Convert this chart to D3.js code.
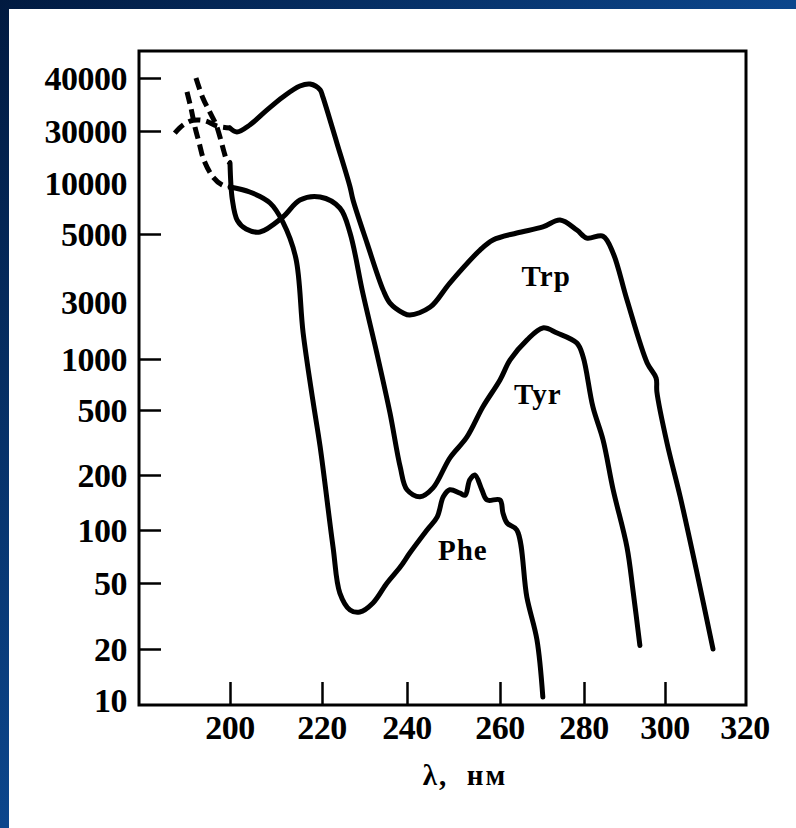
<!DOCTYPE html>
<html>
<head>
<meta charset="utf-8">
<script src="https://cdn.jsdelivr.net/npm/d3@7"></script>
<style>
  html, body { margin: 0; padding: 0; }
  body { width: 796px; height: 828px; overflow: hidden; }
  text { font-family: "Liberation Serif", "DejaVu Serif", serif; font-weight: bold; fill: #000; }
</style>
</head>
<body>
<script>
// axis values
var xTicks = [200, 220, 240, 260, 280, 300, 320];
var xTickMarks = [200, 220, 240, 260, 280, 300];
var yTicks = [10, 20, 50, 100, 200, 500, 1000, 3000, 5000, 10000, 30000, 40000];
var yTickMarks = [20, 50, 100, 200, 500, 1000, 5000, 30000, 40000];

// spectra: [wavelength nm, value]
var trpDashed = [[188, 28700], [189.8, 31000], [192, 31800], [194.6, 31700], [197.2, 30800], [200, 30500]];
var trpSolid = [[200, 30500], [201.5, 29400], [204.3, 31000], [208, 33600], [211.5, 36100], [215.2, 38300],
  [217.4, 38700], [219.6, 37500], [220.2, 36100], [223.5, 23300], [226.6, 9470], [227.3, 7940],
  [230.6, 4670], [234.4, 3280], [236, 2940], [239.1, 2430], [240.6, 2330], [245, 2720], [249.2, 3460],
  [255.7, 4430], [258.5, 4780], [264, 5070], [270.2, 5500], [274.3, 6050], [278.3, 5280], [280.7, 4850],
  [284.7, 4920], [287.2, 4330], [290.6, 3050], [295.6, 947], [297.8, 772], [298, 639], [300.5, 314],
  [303.8, 152], [308, 57], [312, 20]];

var tyrDashed = [[192.6, 40000], [194.1, 35900], [195.7, 33100], [197, 31000], [198, 24800], [198.7, 19300],
  [199.3, 16300], [200, 15300]];
var tyrSolid = [[200, 15300], [200.5, 8000], [201.6, 6000], [203.5, 5350], [206.5, 5140], [211.5, 6300], [215.2, 7940],
  [219.6, 8270], [224.2, 7120], [226.6, 5070], [229.6, 3210], [232.9, 1120], [236, 479], [238.4, 224],
  [240, 166], [242.8, 152], [245.6, 170], [249.2, 254], [252.9, 342], [256.3, 521], [260, 752],
  [262.4, 987], [266.4, 1440], [270.2, 1820], [273.6, 1650], [278.3, 1360], [279.8, 1040], [282.2, 521],
  [284.7, 328], [287.2, 166], [290.6, 80], [292.1, 45], [293.8, 21]];

var pheDashed = [[190.65, 37100], [191.5, 34000], [192.4, 30600], [193.3, 23300], [194.3, 16300],
  [196.3, 11350], [198.3, 9730], [200, 9470]];
var pheSolid = [[200, 9470], [204.3, 8850], [208.7, 7620], [211.5, 5880], [214.3, 4180], [215.9, 1650],
  [218, 573], [219.6, 297], [222.6, 80], [224.2, 43.5], [226.6, 34.4], [228.9, 33.4], [232, 37.9],
  [235.3, 50], [238.4, 61.6], [240.6, 74], [244.3, 100], [246.5, 118], [247.8, 152], [249.2, 166],
  [251.4, 159], [252.5, 155], [253.5, 188], [254.6, 200], [256.1, 166], [257.2, 146], [260, 146],
  [260.7, 124], [261.7, 109], [264, 100], [266.4, 41], [268.8, 22.7], [270.2, 10.4]];

var seriesNames = ["Trp", "Tyr", "Phe"];
var seriesLabelAt = [[271, 3380], [269, 540], [252, 67.5]];
var xTitle = "λ, нм";

// layout (the scan's axes are not evenly spaced, so the scales are piecewise)
var W = 796, H = 828;
var box = {left: 139, right: 746, top: 51, bottom: 705};
var xTickPos = [230, 322, 407, 500, 584, 665, 745];
var yTickPos = [700, 649, 583, 530, 475, 410, 359, 302, 234, 183, 131, 78];

var x = d3.scaleLinear().domain(xTicks).range(xTickPos);
var y = d3.scaleLog().domain(yTicks).range(yTickPos);

var svg = d3.select("body").append("svg")
    .attr("width", W)
    .attr("height", H);

var defs = svg.append("defs");
var grad = defs.append("linearGradient")
    .attr("id", "bg")
    .attr("x1", 0).attr("y1", 0).attr("x2", 1).attr("y2", 1);
grad.append("stop").attr("offset", "0").attr("stop-color", "#011a40");
grad.append("stop").attr("offset", "0.5").attr("stop-color", "#0c468c");
grad.append("stop").attr("offset", "1").attr("stop-color", "#1a5aa0");

svg.append("rect").attr("width", W).attr("height", H).attr("fill", "url(#bg)");
svg.append("rect").attr("x", 9).attr("y", 9).attr("width", W - 9).attr("height", H - 9).attr("fill", "#fff");

var g = svg.append("g");

// frame
g.append("rect")
    .attr("x", box.left).attr("y", box.top)
    .attr("width", box.right - box.left).attr("height", box.bottom - box.top)
    .attr("fill", "none").attr("stroke", "#000").attr("stroke-width", 3);

// inward ticks
var yAxis = d3.axisLeft(y).tickValues(yTickMarks).tickSize(-22).tickFormat("");
g.append("g")
    .attr("transform", "translate(" + box.left + ",0)")
    .call(yAxis)
    .call(function(s){
        s.select(".domain").remove();
        s.selectAll("line").attr("stroke", "#000").attr("stroke-width", 2.5);
    });

var xAxis = d3.axisBottom(x).tickValues(xTickMarks).tickSize(-23).tickFormat("");
g.append("g")
    .attr("transform", "translate(0," + box.bottom + ")")
    .call(xAxis)
    .call(function(s){
        s.select(".domain").remove();
        s.selectAll("line").attr("stroke", "#000").attr("stroke-width", 2.5);
    });

// tick labels
g.selectAll(".ylab").data(yTicks).enter().append("text")
    .attr("class", "ylab")
    .attr("x", box.left - 12)
    .attr("y", function(d){ return y(d); })
    .attr("dy", "0.35em")
    .attr("text-anchor", "end")
    .style("font-size", "34px")
    .style("letter-spacing", "-0.5px")
    .text(function(d){ return d; });

g.selectAll(".xlab").data(xTicks).enter().append("text")
    .attr("class", "xlab")
    .attr("x", function(d){ return x(d); })
    .attr("y", box.bottom + 34)
    .attr("text-anchor", "middle")
    .style("font-size", "34px")
    .style("letter-spacing", "-0.5px")
    .text(function(d){ return d; });

g.append("text")
    .attr("x", 465)
    .attr("y", 785)
    .attr("text-anchor", "middle")
    .style("font-size", "29px")
    .style("letter-spacing", "2px")
    .style("white-space", "pre")
    .text(xTitle.replace(", ", ",  "));

// curves
var line = d3.line()
    .x(function(d){ return x(d[0]); })
    .y(function(d){ return y(d[1]); })
    .curve(d3.curveCatmullRom.alpha(0.5));

[trpSolid, tyrSolid, pheSolid].forEach(function(s){
    g.append("path")
        .attr("d", line(s))
        .attr("fill", "none")
        .attr("stroke", "#000")
        .attr("stroke-width", 5)
        .attr("stroke-linejoin", "round")
        .attr("stroke-linecap", "round");
});

[trpDashed, tyrDashed, pheDashed].forEach(function(s){
    g.append("path")
        .attr("d", line(s))
        .attr("fill", "none")
        .attr("stroke", "#000")
        .attr("stroke-width", 5)
        .attr("stroke-dasharray", "12,6");
});

// series labels
g.selectAll(".slab").data(seriesNames).enter().append("text")
    .attr("class", "slab")
    .attr("x", function(d, i){ return x(seriesLabelAt[i][0]); })
    .attr("y", function(d, i){ return y(seriesLabelAt[i][1]); })
    .attr("text-anchor", "middle")
    .style("font-size", "29px")
    .style("letter-spacing", "1px")
    .text(function(d){ return d; });
</script>
</body>
</html>
